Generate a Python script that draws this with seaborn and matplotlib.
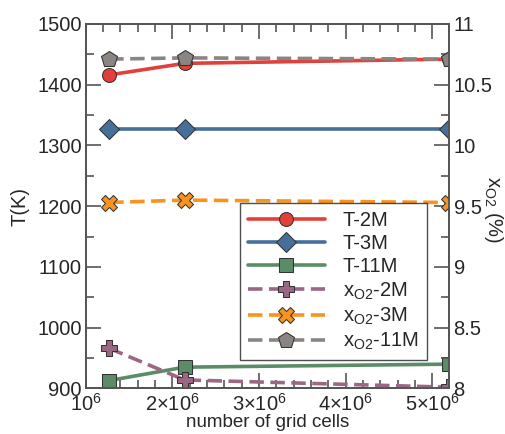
import numpy as np
import seaborn as sns
import matplotlib.pyplot as plt
from matplotlib.ticker import MultipleLocator, FixedLocator, FixedFormatter

sns.set_style('ticks', {'xtick.direction': 'in', 'ytick.direction': 'in'})
plt.rcParams['font.family'] = ['Liberation Sans', 'DejaVu Sans']
plt.rcParams['mathtext.fontset'] = 'custom'
plt.rcParams['mathtext.rm'] = 'Liberation Sans'

# grid sizes
cells = [1.27e6, 2.14e6, 5.2e6]

# temperatures (left axis)
t_2m = [1416, 1435, 1442]
t_3m = [1327, 1327, 1327]
t_11m = [913, 935, 940]

# oxygen fraction (right axis)
x_2m = [8.33, 8.07, 8.01]
x_3m = [9.53, 9.55, 9.53]
x_11m = [10.71, 10.72, 10.71]

xticks = [1e6, 2e6, 3e6, 4e6, 5e6]
xlabels = ['10$^6$', '2×10$^6$', '3×10$^6$', '4×10$^6$', '5×10$^6$']

fig, ax = plt.subplots(figsize=(5.05, 4.34), dpi=100)
ax2 = ax.twinx()

ms = 10
lw = 2.6
dash = (4, 1.8)

sns.lineplot(x=cells, y=t_2m, ax=ax, color='#e2403a', marker='o', markersize=ms,
             markeredgecolor='#333333', lw=lw, label='T-2M', legend=False)
sns.lineplot(x=cells, y=t_3m, ax=ax, color='#44709a', marker='D', markersize=ms,
             markeredgecolor='#333333', lw=lw, label='T-3M', legend=False)
sns.lineplot(x=cells, y=t_11m, ax=ax, color='#5a8d66', marker='s', markersize=ms,
             markeredgecolor='#333333', lw=lw, label='T-11M', legend=False)
sns.lineplot(x=cells, y=x_2m, ax=ax2, color='#9a6785', marker='P', markersize=ms + 1,
             markeredgecolor='#333333', lw=lw, dashes=False, linestyle=(0, dash),
             label='x$_{\\mathrm{O2}}$-2M', legend=False)
sns.lineplot(x=cells, y=x_3m, ax=ax2, color='#f7931e', marker='X', markersize=ms + 1,
             markeredgecolor='#333333', lw=lw, dashes=False, linestyle=(0, dash),
             label='x$_{\\mathrm{O2}}$-3M', legend=False)
sns.lineplot(x=cells, y=x_11m, ax=ax2, color='#8a8482', marker='p', markersize=ms + 2,
             markeredgecolor='#333333', lw=lw, dashes=False, linestyle=(0, dash),
             label='x$_{\\mathrm{O2}}$-11M', legend=False)

ax.set_xlim(1e6, 5.2e6)
ax.set_ylim(900, 1500)
ax2.set_ylim(8, 11)

ax.xaxis.set_major_locator(FixedLocator(xticks))
ax.xaxis.set_major_formatter(FixedFormatter(xlabels))
ax.xaxis.set_minor_locator(MultipleLocator(2e5))
ax.yaxis.set_major_locator(MultipleLocator(100))
ax.yaxis.set_minor_locator(MultipleLocator(50))
ax2.set_yticks([8, 8.5, 9, 9.5, 10, 10.5, 11])
ax2.set_yticklabels(['8', '8.5', '9', '9.5', '10', '10.5', '11'])
ax2.yaxis.set_minor_locator(MultipleLocator(0.25))

spine_col = '#555555'
for a in (ax, ax2):
    for s in a.spines.values():
        s.set_color(spine_col)
        s.set_linewidth(1.3)
ax.tick_params(axis='both', which='major', direction='in', color=spine_col, width=1.2,
               length=11, labelsize=14.5, pad=3, top=True, bottom=True, left=True, right=False)
ax.tick_params(axis='both', which='minor', direction='in', color=spine_col, width=1.2,
               length=6, top=True, bottom=True, left=True, right=False)
ax2.tick_params(axis='y', which='major', direction='in', color=spine_col, width=1.2,
                length=11, labelsize=14.5, pad=3, left=False, right=True)
ax2.tick_params(axis='y', which='minor', direction='in', color=spine_col, width=1.2,
                length=6, left=False, right=True)

ax.set_xlabel('number of grid cells', fontsize=13.5, labelpad=0)
ax.set_ylabel('T(K)', fontsize=14.5, va='center')
ax.yaxis.set_label_coords(-0.18, 0.5)
ax2.set_ylabel('x$_{\\mathrm{O2}}$ (%)', fontsize=14.5, rotation=270, va='center')
ax2.yaxis.set_label_coords(1.121, 0.49)

h1, l1 = ax.get_legend_handles_labels()
h2, l2 = ax2.get_legend_handles_labels()
leg = ax2.legend(h1 + h2, l1 + l2, loc='lower right', bbox_to_anchor=(0.937, 0.077),
                 borderaxespad=0, fontsize=14.5, frameon=True, fancybox=False,
                 edgecolor='#222222', handlelength=3.8, labelspacing=0.2,
                 borderpad=0.4, handletextpad=0.9)
leg.get_frame().set_linewidth(1.0)

plt.subplots_adjust(left=0.17, right=0.89, top=0.945, bottom=0.105)
plt.savefig('out.png', dpi=100)
